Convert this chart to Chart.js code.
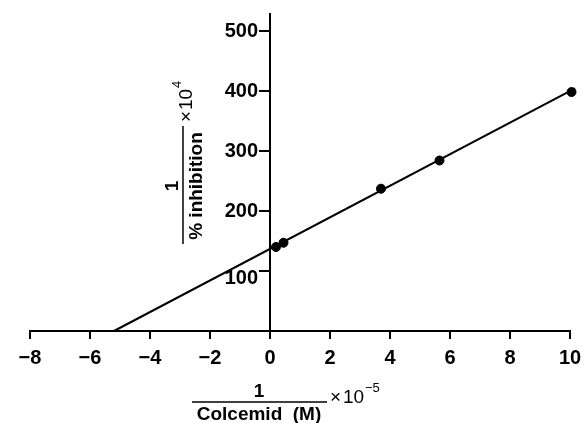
<!DOCTYPE html>
<html>
<head>
<meta charset="utf-8">
<script src="https://cdn.jsdelivr.net/npm/chart.js@4"></script>
<style>
  html, body { margin: 0; padding: 0; background: #fff; }
  #wrap { width: 584px; height: 423px; }
</style>
</head>
<body>
<div id="wrap"><canvas id="chart" width="584" height="423"></canvas></div>
<script>
// values (x = 1/[Colcemid] x 10^-5, y = 1/%inhibition x 10^4)
const pointX = [0.2, 0.45, 3.7, 5.65, 10.05];
const pointY = [140, 147, 237, 284, 398];
const fitX = [-5.2, 10.17];
const fitY = [0, 404];
const xTicks = [-8, -6, -4, -2, 0, 2, 4, 6, 8, 10];
const yTicks = [100, 200, 300, 400, 500];

const FONT = '"Liberation Sans", Arial, sans-serif';

// y tick labels drawn by hand: Chart.js puts them on top of a centred axis
const yLabels = {
    id: 'yLabels',
    afterDraw(chart) {
        const ctx = chart.ctx;
        const x0 = chart.scales.x.getPixelForValue(0);
        const y = chart.scales.y;
        ctx.save();
        ctx.fillStyle = '#000';
        ctx.font = 'bold 20px ' + FONT;
        ctx.textAlign = 'right';
        ctx.textBaseline = 'middle';
        yTicks.forEach(v => {
            // the 100 label sits a little below its tick in the original
            const dy = v === 100 ? 8 : 1;
            ctx.fillText(String(v), x0 - 12, y.getPixelForValue(v) + dy);
        });
        ctx.restore();
    }
};

const titles = {
    id: 'titles',
    afterDraw(chart) {
        const ctx = chart.ctx;
        ctx.save();
        ctx.fillStyle = '#000';
        ctx.strokeStyle = '#000';

        // x-axis title: 1 / Colcemid (M) x 10^-5
        ctx.textAlign = 'center';
        ctx.textBaseline = 'alphabetic';
        ctx.font = 'bold 19px ' + FONT;
        ctx.fillText('1', 259, 397);
        ctx.fillText('Colcemid  (M)', 259, 420);
        ctx.lineWidth = 1.5;
        ctx.beginPath();
        ctx.moveTo(192, 402);
        ctx.lineTo(327, 402);
        ctx.stroke();
        ctx.textAlign = 'left';
        ctx.font = '19px ' + FONT;
        ctx.fillText('\u00d7', 330, 403);
        ctx.fillText('10', 343, 403);
        ctx.font = '13px ' + FONT;
        ctx.fillText('\u22125', 365, 392);

        // y-axis title, rotated: 1 / % inhibition x 10^4
        ctx.save();
        ctx.translate(183, 186);
        ctx.rotate(-Math.PI / 2);
        ctx.textAlign = 'center';
        ctx.font = 'bold 19px ' + FONT;
        ctx.fillText('1', 0, -5);
        ctx.fillText('% inhibition', 0, 19);
        ctx.lineWidth = 1.5;
        ctx.beginPath();
        ctx.moveTo(-58, 0);
        ctx.lineTo(60, 0);
        ctx.stroke();
        ctx.textAlign = 'left';
        ctx.font = '19px ' + FONT;
        ctx.fillText('\u00d7', 64, 9);
        ctx.fillText('10', 76, 9);
        ctx.font = '13px ' + FONT;
        ctx.fillText('4', 98, -2);
        ctx.restore();

        ctx.restore();
    }
};

new Chart(document.getElementById('chart'), {
    type: 'scatter',
    data: {
        datasets: [{
            label: 'data',
            data: pointX.map((x, i) => ({ x: x, y: pointY[i] })),
            backgroundColor: '#000',
            borderColor: '#000',
            pointRadius: 4.5,
            pointHoverRadius: 4.5,
            clip: false
        }, {
            label: 'fit',
            data: fitX.map((x, i) => ({ x: x, y: fitY[i] })),
            showLine: true,
            borderColor: '#000',
            borderWidth: 2,
            pointRadius: 0,
            clip: false
        }]
    },
    options: {
        responsive: false,
        animation: false,
        events: [],
        layout: { padding: { left: 30, right: 14, top: 14, bottom: 0 } },
        plugins: {
            legend: { display: false },
            tooltip: { enabled: false },
            title: { display: false }
        },
        scales: {
            x: {
                type: 'linear',
                position: 'bottom',
                min: -8,
                max: 10,
                afterBuildTicks: s => { s.ticks = xTicks.map(v => ({ value: v })); },
                afterFit: s => { s.height = 92; s.paddingLeft = 0; s.paddingRight = 0; },
                grid: { drawOnChartArea: false, drawTicks: true, tickLength: 8, color: '#000', lineWidth: 2 },
                border: { display: true, color: '#000', width: 2 },
                ticks: {
                    color: '#000',
                    padding: 7,
                    maxRotation: 0,
                    font: { family: FONT, size: 20, weight: 'bold' },
                    callback: v => String(v).replace('-', '\u2212')
                }
            },
            y: {
                type: 'linear',
                position: { x: 0 },
                min: 0,
                max: 528,
                afterBuildTicks: s => { s.ticks = yTicks.map(v => ({ value: v })); },
                afterFit: s => { s.paddingTop = 0; s.paddingBottom = 0; },
                grid: { drawOnChartArea: false, drawTicks: true, tickLength: 10, color: '#000', lineWidth: 2 },
                border: { display: true, color: '#000', width: 2 },
                ticks: { display: false }
            }
        }
    },
    plugins: [yLabels, titles]
});
</script>
</body>
</html>
